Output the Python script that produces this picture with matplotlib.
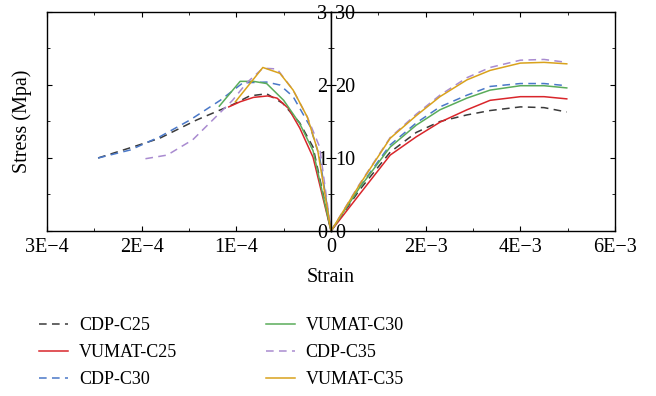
import numpy as np
import matplotlib
matplotlib.use('Agg')
import matplotlib.pyplot as plt
from matplotlib.ticker import MultipleLocator, FixedLocator

plt.rcParams['font.family'] = ['Liberation Serif', 'DejaVu Serif']
plt.rcParams['font.size'] = 14.5

# tension branch (strain, stress in MPa)
t_cdp25_e = [2.46e-4, 2.12e-4, 1.81e-4, 1.42e-4, 1.04e-4, 0.86e-4, 0.68e-4, 0.51e-4, 0.33e-4, 0.19e-4, 0]
t_cdp25_s = [1.00, 1.14, 1.27, 1.52, 1.73, 1.85, 1.88, 1.75, 1.48, 1.15, 0]
t_vum25_e = [1.08e-4, 0.96e-4, 0.82e-4, 0.67e-4, 0.57e-4, 0.45e-4, 0.33e-4, 0.19e-4, 0]
t_vum25_s = [1.70, 1.77, 1.83, 1.85, 1.82, 1.68, 1.41, 1.01, 0]
t_cdp30_e = [2.46e-4, 2.12e-4, 1.81e-4, 1.49e-4, 1.17e-4, 0.93e-4, 0.68e-4, 0.54e-4, 0.40e-4, 0.22e-4, 0.12e-4, 0]
t_cdp30_s = [1.00, 1.11, 1.29, 1.52, 1.79, 2.03, 2.04, 2.00, 1.84, 1.43, 1.01, 0]
t_vum30_e = [1.18e-4, 0.96e-4, 0.82e-4, 0.68e-4, 0.50e-4, 0.33e-4, 0.19e-4, 0]
t_vum30_s = [1.71, 2.05, 2.05, 2.02, 1.79, 1.47, 1.10, 0]
t_cdp35_e = [1.96e-4, 1.73e-4, 1.46e-4, 1.25e-4, 1.04e-4, 0.89e-4, 0.72e-4, 0.57e-4, 0.40e-4, 0.25e-4, 0.12e-4, 0]
t_cdp35_s = [0.99, 1.04, 1.25, 1.52, 1.79, 2.03, 2.23, 2.22, 1.93, 1.56, 1.15, 0]
t_vum35_e = [1.01e-4, 0.72e-4, 0.54e-4, 0.40e-4, 0.25e-4, 0.14e-4, 0]
t_vum35_s = [1.77, 2.24, 2.16, 1.93, 1.56, 1.10, 0]

# compression branch (strain, stress in MPa)
c_e = [0, 0.6e-3, 1.25e-3, 1.8e-3, 2.3e-3, 2.87e-3, 3.36e-3, 4.0e-3, 4.5e-3, 4.98e-3]
c_cdp25 = [0, 5.6, 10.8, 13.5, 15.0, 15.9, 16.5, 17.0, 16.9, 16.3]
c_vum25 = [0, 5.0, 10.4, 12.9, 14.9, 16.6, 17.9, 18.4, 18.4, 18.1]
c_cdp30 = [0, 6.0, 11.8, 14.8, 17.0, 18.6, 19.8, 20.2, 20.2, 19.9]
c_vum30 = [0, 5.9, 11.5, 14.5, 16.6, 18.2, 19.3, 19.9, 19.9, 19.6]
c_cdp35 = [0, 6.4, 12.8, 16.0, 18.6, 21.0, 22.4, 23.4, 23.5, 23.1]
c_vum35 = [0, 6.3, 12.7, 15.8, 18.4, 20.7, 22.0, 23.0, 23.1, 22.9]

labels = ['CDP-C25', 'VUMAT-C25', 'CDP-C30', 'VUMAT-C30', 'CDP-C35', 'VUMAT-C35']
colors = ['#3a3a3a', '#d9262b', '#4a78c8', '#5aac5a', '#a98bd0', '#d9a21c']
styles = ['--', '-', '--', '-', '--', '-']

tension = [(t_cdp25_e, t_cdp25_s), (t_vum25_e, t_vum25_s), (t_cdp30_e, t_cdp30_s),
           (t_vum30_e, t_vum30_s), (t_cdp35_e, t_cdp35_s), (t_vum35_e, t_vum35_s)]
compression = [c_cdp25, c_vum25, c_cdp30, c_vum30, c_cdp35, c_vum35]

fig = plt.figure(figsize=(6.56, 3.96), dpi=100)
axl = fig.add_axes([0.0716, 0.4167, 0.433, 0.553])
axr = fig.add_axes([0.5046, 0.4167, 0.433, 0.553])

handles = []
for (e, s), c, col, ls, lab in zip(tension, compression, colors, styles, labels):
    dash = dict(dashes=(5, 3.5)) if ls == '--' else {}
    h, = axl.plot(e, s, ls, color=col, lw=1.1, label=lab, **dash)
    axr.plot(c_e, c, ls, color=col, lw=1.1, **dash)
    handles.append(h)

# left (tension) axes
axl.set_xlim(3e-4, 0)
axl.set_ylim(0, 3)
axl.xaxis.set_major_locator(FixedLocator([3e-4, 2e-4, 1e-4, 0]))
axl.set_xticklabels(['3E−4', '2E−4', '1E−4', '0'])
axl.xaxis.set_minor_locator(MultipleLocator(0.5e-4))
axl.yaxis.set_major_locator(MultipleLocator(1))
axl.yaxis.set_minor_locator(MultipleLocator(0.5))
axl.tick_params(axis='both', which='both', direction='in', top=True, right=True,
                labelleft=False, labelright=True)
axl.tick_params(axis='y', which='major', pad=-3)
axl.tick_params(axis='x', which='major', pad=5)
for t in axl.get_yticklabels():
    t.set_ha('right')

# right (compression) axes
axr.set_xlim(0, 6e-3)
axr.set_ylim(0, 30)
axr.xaxis.set_major_locator(FixedLocator([0, 2e-3, 4e-3, 6e-3]))
axr.set_xticklabels(['', '2E−3', '4E−3', '6E−3'])
axr.xaxis.set_minor_locator(MultipleLocator(1e-3))
axr.yaxis.set_major_locator(MultipleLocator(10))
axr.yaxis.set_minor_locator(MultipleLocator(5))
axr.tick_params(axis='both', which='both', direction='in', top=True, right=True,
                labelleft=True)
axr.tick_params(axis='y', which='major', pad=-3)
axr.tick_params(axis='x', which='major', pad=5)
for t in axr.get_yticklabels():
    t.set_ha('left')

for ax in (axl, axr):
    for sp in ax.spines.values():
        sp.set_linewidth(1.0)

fig.text(0.034, 0.6925, 'Stress (Mpa)', rotation=90, ha='center', va='center')
fig.text(0.5046, 0.30, 'Strain', ha='center', va='center')

fig.legend(handles=handles, ncol=2, frameon=False, loc='upper left',
           bbox_to_anchor=(0.035, 0.24), handlelength=1.6, handletextpad=0.6,
           columnspacing=4.9, labelspacing=0.55, fontsize=13)

fig.savefig('out.png', dpi=100)
